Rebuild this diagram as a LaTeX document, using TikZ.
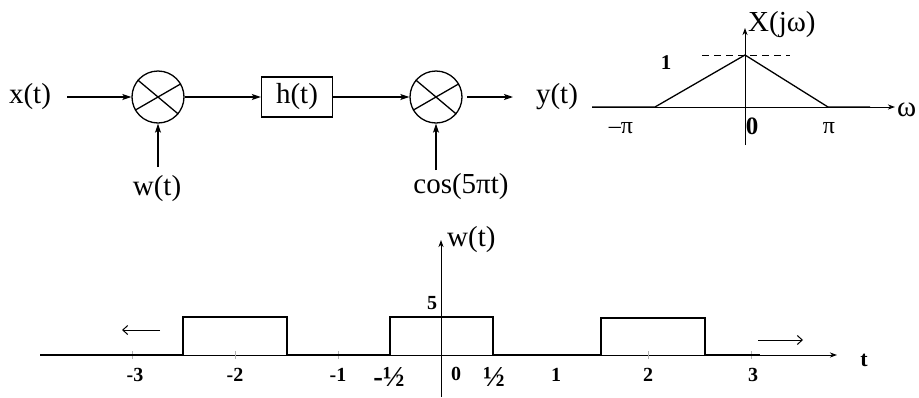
\documentclass[tikz,border=0pt]{standalone}
\usepackage{fontspec}
\setmainfont{Liberation Serif}
\usetikzlibrary{arrows.meta}
\begin{document}
\begin{tikzpicture}[x=1pt,y=-1pt,
  sig/.style={line width=1.3pt},
  arr/.style={sig,-{Stealth[length=9pt,width=6pt,inset=2pt]}},
  axarr/.style={line width=1pt,-{Stealth[length=7pt,width=5pt,inset=2pt]}},
  big/.style={font=\fontsize{29}{31}\selectfont, inner sep=0pt},
  lab/.style={font=\fontsize{20}{22}\selectfont\bfseries, inner sep=0pt},
  half/.style={font=\fontsize{29}{31}\selectfont\bfseries, inner sep=0pt},
  nlab/.style={font=\fontsize{24}{26}\selectfont, inner sep=0pt},
  mult/.style={circle,draw,line width=1.3pt,minimum size=52pt,inner sep=0pt},
  hbox/.style={draw,line width=1.3pt,minimum width=71pt,minimum height=40pt,inner sep=0pt,font=\fontsize{29}{31}\selectfont}]
\useasboundingbox (0,0) rectangle (919,397);

% ---------- block diagram ----------
\node[big] (x) at (30,97) {x(t)};
\node[mult] (m1) at (158,97) {};
\draw[sig] (m1.140) -- (m1.-40) (m1.30) -- (m1.210);
\node[big] (w) at (157,189) {w(t)};
\node[hbox] (h) at (297,97) {h(t)};
\node[mult] (m2) at (436,97) {};
\draw[sig] (m2.140) -- (m2.-40) (m2.30) -- (m2.210);
\node[big] (c) at (461,187) {cos(5πt)};
\node[big] (y) at (557,97) {y(t)};
\coordinate (xs) at (67,97);
\coordinate (ws) at (158,167);
\coordinate (cs) at (436,170);
\coordinate (ys) at (467,97);
\coordinate (ye) at (513,97);

\draw[arr] (xs) -- (m1.west);
\draw[arr] (ws) -- (m1.south);
\draw[arr] (m1.east) -- (h.west);
\draw[arr] (h.east) -- (m2.west);
\draw[arr] (cs) -- (m2.south);
\draw[arr] (ys) -- (ye);

% ---------- spectrum ----------
\coordinate (hl) at (592,107);
\coordinate (hr) at (895,107);
\coordinate (vb) at (745,145);
\coordinate (vt) at (745,28);
\draw[axarr] (hl) -- (hr);
\draw[axarr] (vb) -- (vt);
\draw[sig] (hl) -- (655,107) -- (745,55) -- (828,107) -- (870,107);
\draw[line width=1pt,dash pattern=on 7pt off 5pt] (702,55) -- (790,55);
\node[big,anchor=west] (X) at (748,25) {X(jω)};
\node[big,anchor=west] (om) at (897,110) {ω};
\node[lab,font=\fontsize{21}{23}\selectfont\bfseries] (one) at (666,63) {1};
\node[nlab] (mpi) at (621,128) {–π};
\node[lab,font=\fontsize{25}{27}\selectfont\bfseries] (z) at (752,126) {0};
\node[nlab] (pi) at (829,128) {π};

% ---------- pulse train ----------
\coordinate (al) at (40,355);
\coordinate (ar) at (837,355);
\coordinate (wb) at (441,397);
\coordinate (wt) at (441,240);
\draw[axarr] (al) -- (ar);
\draw[axarr] (wb) -- (wt);
\foreach \t in {132,235,338,648,751} \draw[line width=0.5pt,gray!60] (\t,351) -- (\t,359);
\draw[sig] (al) -- (183,355) -- (183,317) -- (287,317) -- (287,355) -- (390,355)
  -- (390,317) -- (493,317) -- (493,355) -- (601,355) -- (601,318) -- (705,318)
  -- (705,355) -- (760,355);
\draw[line width=1pt,-{Straight Barb[length=5pt,width=9pt]}] (160,330) -- (122,330);
\draw[line width=1pt,-{Straight Barb[length=5pt,width=9pt]}] (758,340) -- (803,340);
\node[big,anchor=west] (wl) at (447,240) {w(t)};
\node[lab] (five) at (432,303) {5};
\node[lab,font=\fontsize{22}{24}\selectfont\bfseries] (tl) at (864,360) {t};
\node[lab] (t1) at (135,375) {-3};
\node[lab] (t2) at (235,375) {-2};
\node[lab] (t3) at (338,375) {-1};
\node[half] (t4) at (389,377) {-½};
\node[lab] (t5) at (456,374) {0};
\node[half] (t6) at (494,377) {½};
\node[lab] (t7) at (556,375) {1};
\node[lab] (t8) at (648,375) {2};
\node[lab] (t9) at (753,375) {3};
\end{tikzpicture}
\end{document}
